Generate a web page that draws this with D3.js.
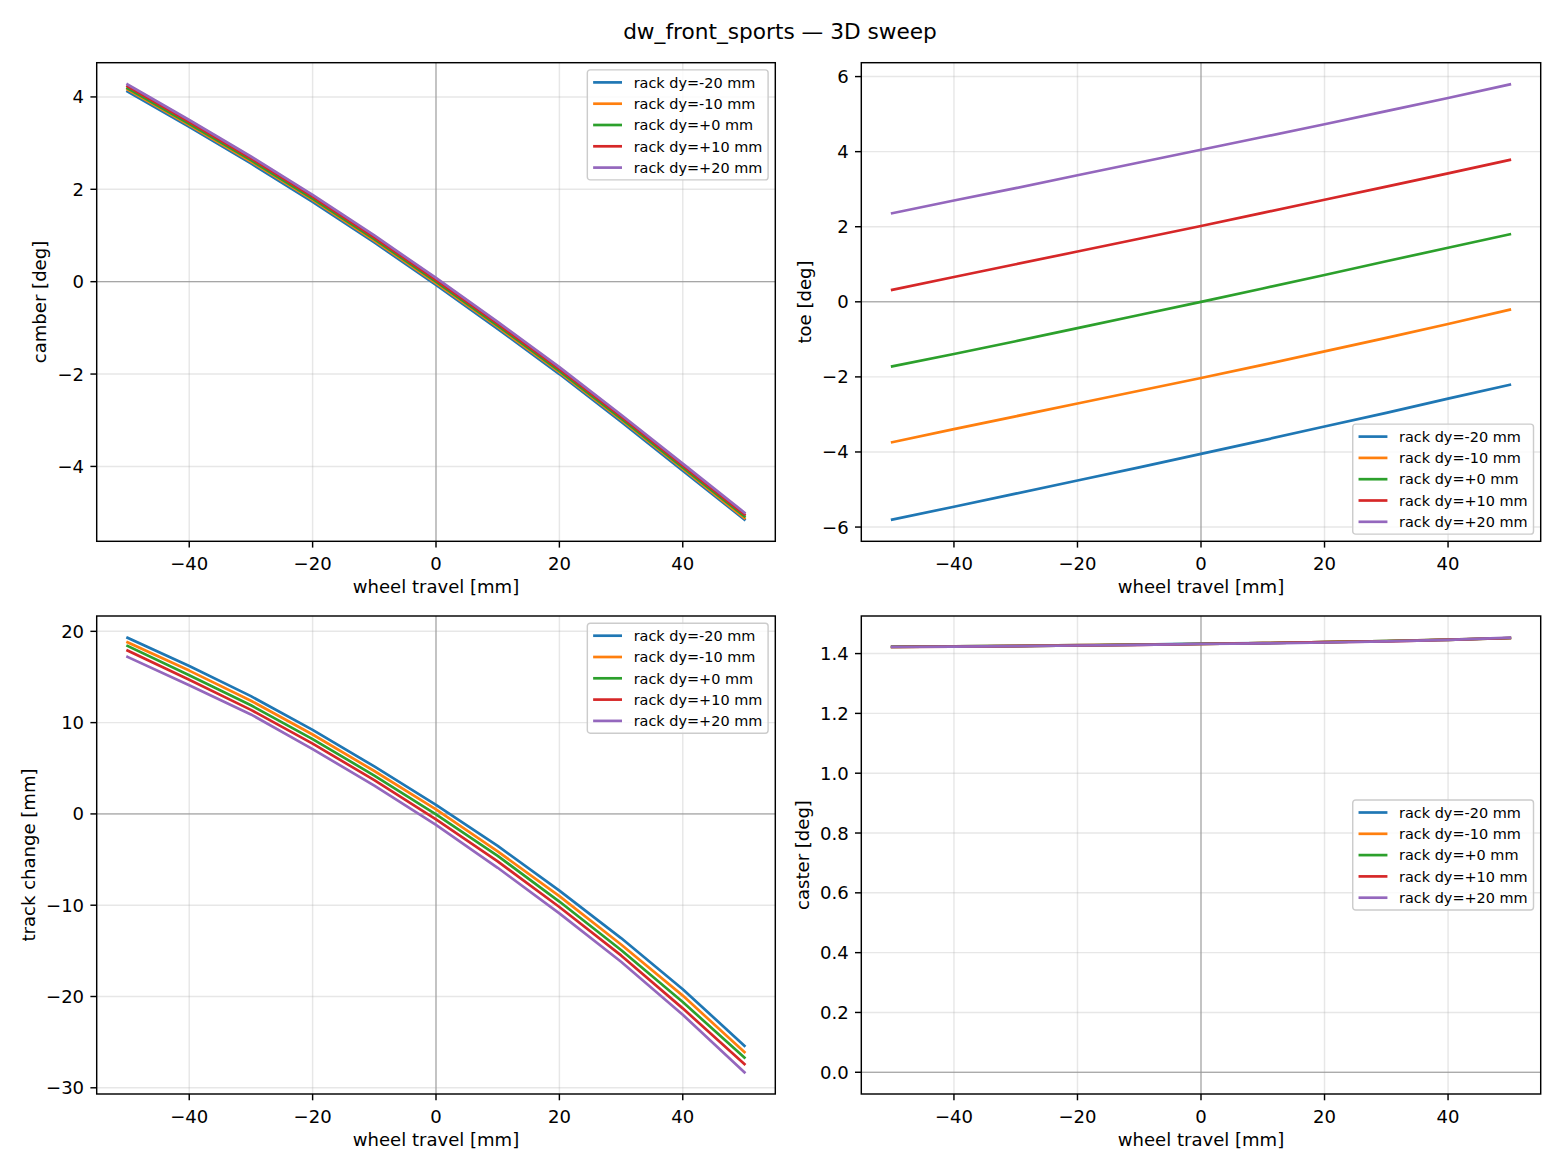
<!DOCTYPE html>
<html>
<head>
<meta charset="utf-8">
<script src="https://cdn.jsdelivr.net/npm/d3@7"></script>
<style>
	body { margin: 0; background: #fff; }
	svg { display: block; font-family: "DejaVu Sans", sans-serif; }
</style>
</head>
<body>
<div class="figure"></div>
<script>
(function() {
	'use strict';

	// wheel travel samples [mm]
	var travel = [-50, -40, -30, -20, -10, 0, 10, 20, 30, 40, 50];
	var rackLabels = ['rack dy=-20 mm', 'rack dy=-10 mm', 'rack dy=+0 mm', 'rack dy=+10 mm', 'rack dy=+20 mm'];
	var colors = ['#1f77b4', '#ff7f0e', '#2ca02c', '#d62728', '#9467bd'];

	// one row per rack offset, same order as rackLabels
	var camber = [
		[4.12, 3.35, 2.56, 1.73, 0.85, -0.07, -1.02, -2.00, -3.03, -4.09, -5.15],
		[4.16, 3.39, 2.60, 1.77, 0.89, -0.03, -0.98, -1.96, -2.99, -4.05, -5.12],
		[4.19, 3.42, 2.63, 1.80, 0.92, 0.00, -0.95, -1.93, -2.96, -4.02, -5.08],
		[4.23, 3.46, 2.67, 1.84, 0.96, 0.04, -0.91, -1.89, -2.92, -3.98, -5.04],
		[4.27, 3.50, 2.71, 1.88, 1.00, 0.08, -0.87, -1.85, -2.88, -3.94, -5.00]
	];
	var toe = [
		[-5.80, -5.46, -5.11, -4.76, -4.41, -4.05, -3.69, -3.32, -2.96, -2.58, -2.21],
		[-3.74, -3.39, -3.05, -2.71, -2.37, -2.03, -1.68, -1.32, -0.96, -0.59, -0.21],
		[-1.72, -1.39, -1.05, -0.70, -0.35, 0.00, 0.355, 0.715, 1.08, 1.44, 1.80],
		[0.32, 0.66, 1.00, 1.34, 1.68, 2.02, 2.37, 2.72, 3.07, 3.42, 3.78],
		[2.36, 2.70, 3.03, 3.37, 3.71, 4.05, 4.39, 4.73, 5.08, 5.43, 5.79]
	];
	var track = [
		[19.3, 16.2, 12.9, 9.2, 5.2, 1.0, -3.5, -8.4, -13.6, -19.2, -25.4],
		[18.8, 15.7, 12.4, 8.7, 4.7, 0.5, -4.1, -9.0, -14.3, -19.9, -26.1],
		[18.4, 15.2, 11.9, 8.2, 4.2, -0.05, -4.6, -9.6, -14.9, -20.6, -26.7],
		[17.9, 14.7, 11.4, 7.7, 3.7, -0.6, -5.2, -10.2, -15.5, -21.3, -27.4],
		[17.2, 14.1, 10.9, 7.1, 3.1, -1.2, -5.9, -10.9, -16.2, -22.0, -28.3]
	];
	var caster = [
		[1.423, 1.424, 1.426, 1.428, 1.430, 1.433, 1.435, 1.438, 1.442, 1.447, 1.452],
		[1.422, 1.424, 1.426, 1.428, 1.430, 1.432, 1.435, 1.438, 1.442, 1.447, 1.452],
		[1.422, 1.424, 1.425, 1.427, 1.430, 1.432, 1.435, 1.438, 1.442, 1.446, 1.452],
		[1.422, 1.423, 1.425, 1.427, 1.429, 1.432, 1.435, 1.438, 1.441, 1.446, 1.452],
		[1.422, 1.423, 1.425, 1.427, 1.429, 1.432, 1.434, 1.437, 1.441, 1.446, 1.453]
	];

	var xTicks = [-40, -20, 0, 20, 40];
	var camberTicks = [-4, -2, 0, 2, 4];
	var toeTicks = [-6, -4, -2, 0, 2, 4, 6];
	var trackTicks = [-30, -20, -10, 0, 10, 20];
	var casterTicks = [0, 0.2, 0.4, 0.6, 0.8, 1.0, 1.2, 1.4];

	var W = 1560, H = 1170;
	var FONT = 18.06, LEGEND_FONT = 14.44, TICK = 6.3, PAD = 6.3;

	var svg = d3.select('.figure').append('svg').attr('width', W).attr('height', H);

	svg.append('text')
		.attr('x', 780).attr('y', 39)
		.attr('text-anchor', 'middle')
		.attr('font-size', 21.67)
		.text('dw_front_sports \u2014 3D sweep');

	var panels = [
		{ series: camber, ylabel: 'camber [deg]', ticks: camberTicks, fmt: d3.format('d'), legend: 'upper right', box: [96.7, 62.7, 775.3, 541.3] },
		{ series: toe, ylabel: 'toe [deg]', ticks: toeTicks, fmt: d3.format('d'), legend: 'lower right', box: [861.3, 62.7, 1540.7, 541.3] },
		{ series: track, ylabel: 'track change [mm]', ticks: trackTicks, fmt: d3.format('d'), legend: 'upper right', box: [96.7, 616, 775.3, 1094] },
		{ series: caster, ylabel: 'caster [deg]', ticks: casterTicks, fmt: d3.format('.1f'), legend: 'center right', box: [861.3, 616, 1540.7, 1094], withZero: true }
	];

	function paddedDomain(values) {
		var lo = d3.min(values), hi = d3.max(values);
		var m = (hi - lo) * 0.05;
		return [lo - m, hi + m];
	}

	function drawPanel(p, idx) {
		var left = p.box[0], top = p.box[1], right = p.box[2], bottom = p.box[3];
		var all = d3.merge(p.series);
		if (p.withZero) all = all.concat([0]); // axhline at 0 counts for autoscale

		var x = d3.scaleLinear().domain(paddedDomain(travel)).range([left, right]);
		var y = d3.scaleLinear().domain(paddedDomain(all)).range([bottom, top]);

		var g = svg.append('g');
		var clipId = 'clip' + idx;
		g.append('clipPath').attr('id', clipId)
			.append('rect')
			.attr('x', left).attr('y', top)
			.attr('width', right - left).attr('height', bottom - top);

		// grid
		var grid = g.append('g').attr('stroke', '#b0b0b0').attr('stroke-opacity', 0.3).attr('stroke-width', 1.44);
		grid.selectAll('.gx').data(xTicks).enter().append('line')
			.attr('x1', function(d) { return x(d); }).attr('x2', function(d) { return x(d); })
			.attr('y1', top).attr('y2', bottom);
		grid.selectAll('.gy').data(p.ticks).enter().append('line')
			.attr('x1', left).attr('x2', right)
			.attr('y1', function(d) { return y(d); }).attr('y2', function(d) { return y(d); });

		// zero lines
		var zero = g.append('g').attr('clip-path', 'url(#' + clipId + ')')
			.attr('stroke', '#999').attr('stroke-width', 1.0);
		zero.append('line').attr('x1', x(0)).attr('x2', x(0)).attr('y1', top).attr('y2', bottom);
		zero.append('line').attr('x1', left).attr('x2', right).attr('y1', y(0)).attr('y2', y(0));

		// series
		var line = d3.line()
			.x(function(d, i) { return x(travel[i]); })
			.y(function(d) { return y(d); });
		g.append('g').attr('clip-path', 'url(#' + clipId + ')')
			.selectAll('path').data(p.series).enter().append('path')
			.attr('d', line)
			.attr('fill', 'none')
			.attr('stroke', function(d, i) { return colors[i]; })
			.attr('stroke-width', 2.7)
			.attr('stroke-linejoin', 'round')
			.attr('stroke-linecap', 'square');

		// spines
		g.append('rect')
			.attr('x', left).attr('y', top)
			.attr('width', right - left).attr('height', bottom - top)
			.attr('fill', 'none').attr('stroke', '#000').attr('stroke-width', 1.44);

		// x ticks
		var xt = g.selectAll('.xt').data(xTicks).enter().append('g')
			.attr('transform', function(d) { return 'translate(' + x(d) + ',' + bottom + ')'; });
		xt.append('line').attr('y2', TICK).attr('stroke', '#000').attr('stroke-width', 1.44);
		xt.append('text')
			.attr('y', 29).attr('text-anchor', 'middle').attr('font-size', FONT)
			.text(d3.format('d'));

		// y ticks
		var yt = g.selectAll('.yt').data(p.ticks).enter().append('g')
			.attr('transform', function(d) { return 'translate(' + left + ',' + y(d) + ')'; });
		yt.append('line').attr('x2', -TICK).attr('stroke', '#000').attr('stroke-width', 1.44);
		var labels = yt.append('text')
			.attr('x', -TICK - PAD).attr('dy', '0.36em')
			.attr('text-anchor', 'end').attr('font-size', FONT)
			.text(p.fmt);

		var maxW = 0;
		labels.each(function() { maxW = Math.max(maxW, this.getComputedTextLength()); });

		g.append('text')
			.attr('x', (left + right) / 2).attr('y', bottom + 52)
			.attr('text-anchor', 'middle').attr('font-size', FONT)
			.text('wheel travel [mm]');

		var yl = left - TICK - PAD - maxW - 7.2 - 10.5;
		g.append('text')
			.attr('transform', 'translate(' + yl + ',' + (top + bottom) / 2 + ') rotate(-90)')
			.attr('dy', '0.36em')
			.attr('text-anchor', 'middle').attr('font-size', FONT)
			.text(p.ylabel);

		drawLegend(g, p.legend, left, top, right, bottom);
	}

	function drawLegend(g, loc, left, top, right, bottom) {
		var rowGap = 21.3, h = 110;
		var lg = g.append('g');
		var frame = lg.append('rect')
			.attr('rx', 2.9).attr('ry', 2.9)
			.attr('fill', '#fff').attr('fill-opacity', 0.8)
			.attr('stroke', '#cccccc').attr('stroke-width', 1.44);
		var rows = lg.selectAll('.row').data(rackLabels).enter().append('g')
			.attr('transform', function(d, i) { return 'translate(0,' + (12.5 + i * rowGap) + ')'; });
		rows.append('line')
			.attr('x1', 5.8).attr('x2', 34.7)
			.attr('stroke', function(d, i) { return colors[i]; })
			.attr('stroke-width', 2.7);
		var texts = rows.append('text')
			.attr('x', 46.3).attr('dy', '0.36em')
			.attr('font-size', LEGEND_FONT)
			.text(function(d) { return d; });

		var tw = 0;
		texts.each(function() { tw = Math.max(tw, this.getComputedTextLength()); });
		var w = 46.3 + tw + 5.8;
		frame.attr('width', w).attr('height', h);

		var lx = right - 7.2 - w, ly;
		if (loc === 'upper right') ly = top + 7.2;
		else if (loc === 'lower right') ly = bottom - 7.2 - h;
		else ly = (top + bottom) / 2 - h / 2;
		lg.attr('transform', 'translate(' + lx + ',' + ly + ')');
	}

	panels.forEach(drawPanel);
})();
</script>
</body>
</html>
